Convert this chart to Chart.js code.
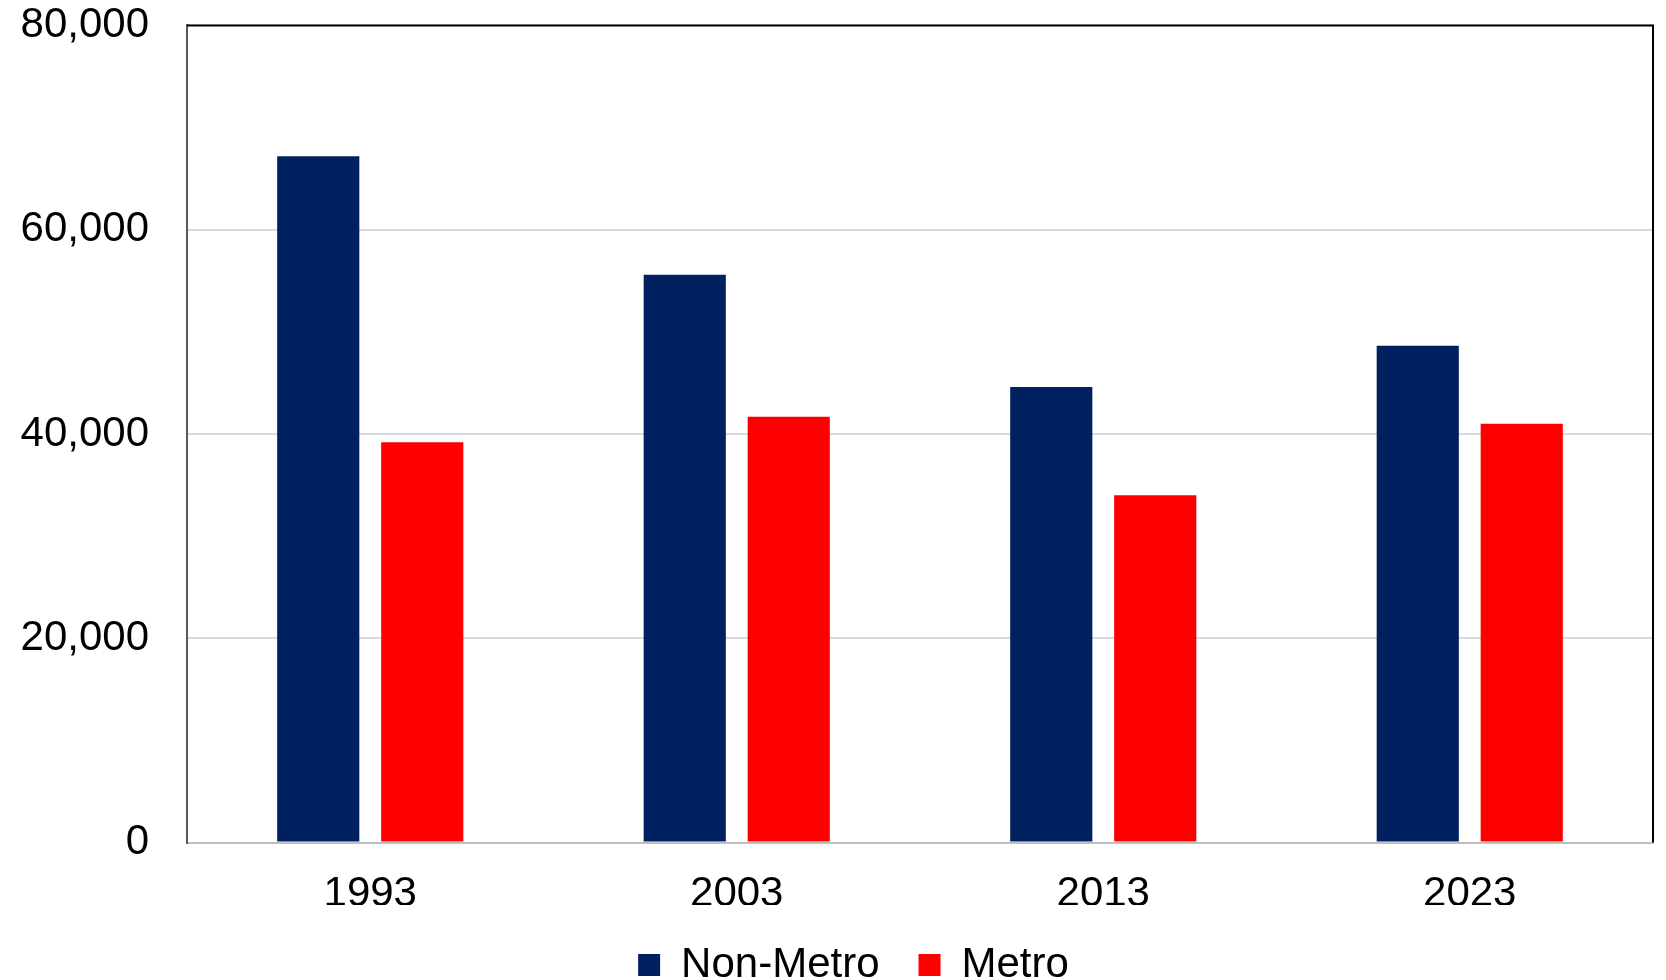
<!DOCTYPE html>
<html>
<head>
<meta charset="utf-8">
<script src="https://cdn.jsdelivr.net/npm/chart.js@4.4.0/dist/chart.umd.min.js"></script>
<style>
  html, body { margin: 0; padding: 0; background: #fff; overflow: hidden; }
  #wrap { position: relative; width: 1666px; height: 996px; }
</style>
</head>
<body>
<div id="wrap"><canvas id="chart"></canvas></div>
<script>
// Values
const years = ['1993', '2003', '2013', '2023'];
const nonMetro = [67200, 55600, 44600, 48650];
const metro = [39200, 41700, 34000, 41000];

const FONT = { family: '"Liberation Sans", Arial, sans-serif', size: 42 };

// Top and right frame lines of the plot box, and a small nudge of the legend row
const frame = {
    id: 'frame',
    afterLayout(chart) {
        if (chart.legend) {
            chart.legend.left += 54;
        }
    },
    afterDraw(chart) {
        const { ctx, chartArea: a } = chart;
        ctx.save();
        ctx.strokeStyle = '#000';
        ctx.lineWidth = 2;
        ctx.beginPath();
        ctx.moveTo(a.left, a.top);
        ctx.lineTo(a.right, a.top);
        ctx.lineTo(a.right, a.bottom);
        ctx.stroke();
        ctx.restore();
    }
};

window.onload = function() {
    const ctx = document.getElementById('chart').getContext('2d');
    new Chart(ctx, {
        type: 'bar',
        data: {
            labels: years,
            datasets: [
                { label: 'Non-Metro', data: nonMetro, backgroundColor: '#002060' },
                { label: 'Metro', data: metro, backgroundColor: '#FF0000' }
            ]
        },
        options: {
            responsive: true,
            maintainAspectRatio: false,
            animation: false,
            categoryPercentage: 0.5675,
            barPercentage: 0.79,
            layout: { padding: { top: 0, right: 13, left: 0, bottom: 0 } },
            plugins: {
                tooltip: { enabled: false },
                legend: {
                    position: 'bottom',
                    labels: {
                        color: '#000',
                        font: FONT,
                        boxWidth: 22,
                        boxHeight: 22,
                        padding: 39
                    }
                }
            },
            scales: {
                x: {
                    grid: { drawOnChartArea: false, drawTicks: false },
                    border: { color: '#bfbfbf', width: 2 },
                    ticks: { color: '#000', font: FONT, padding: 27 },
                    afterFit(scale) { scale.height = 62.4; }
                },
                y: {
                    min: 0,
                    max: 80000,
                    ticks: {
                        stepSize: 20000,
                        color: '#000',
                        font: FONT,
                        padding: 38,
                        callback: v => v.toLocaleString('en-US')
                    },
                    grid: { color: '#d9d9d9', lineWidth: 2, drawTicks: false },
                    border: { color: '#595959', width: 2 },
                    afterFit(scale) {
                        scale.width = 187;
                        scale.paddingTop = 25.4;
                        scale.paddingBottom = 0;
                    }
                }
            }
        },
        plugins: [frame]
    });
};
</script>
</body>
</html>
